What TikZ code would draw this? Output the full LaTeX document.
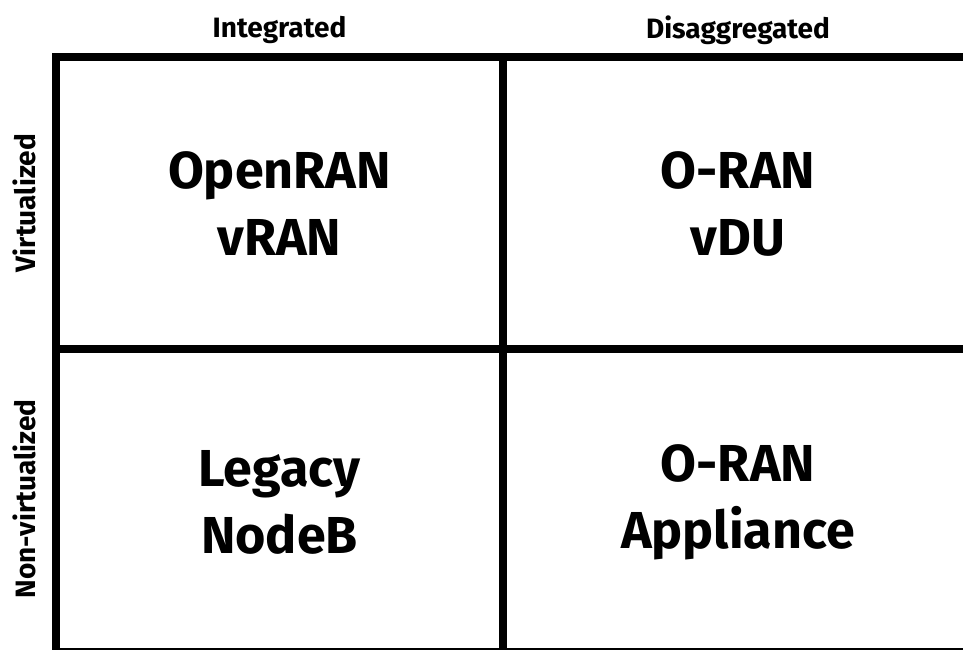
\documentclass[tikz,border=0pt]{standalone}
\usepackage{fontspec}
\setmainfont{Fira Sans}[BoldFont={Fira Sans Bold}]
\begin{document}
\begin{tikzpicture}[x=1pt,y=-1pt,
  gridline/.style={line width=8pt,black},
  head/.style={font=\bfseries\fontsize{28}{32}\selectfont,inner sep=0pt},
  side/.style={font=\bfseries\fontsize{28}{32}\selectfont,inner sep=0pt,rotate=90},
  cell/.style={font=\bfseries\fontsize{52}{67}\selectfont,align=center,inner sep=0pt}]
\useasboundingbox (0,0) rectangle (963,649);
\clip (0,0) rectangle (963,649);
\draw[gridline] (56,57) -- (56,660);
\draw[gridline] (503,57) -- (503,660);
\draw[gridline] (52,57) -- (980,57);
\draw[gridline] (52,349) -- (980,349);
\draw[gridline] (52,652) -- (980,652);
\node[head] (hint) at (279.5,30) {Integrated};
\node[head] (hdis) at (738,30) {Disaggregated};
\node[side] (svirt) at (24,203) {Virtualized};
\node[side] (snon) at (24,499) {Non-virtualized};
\node[cell] (c11) at (279.5,204) {OpenRAN\\vRAN};
\node[cell] (c12) at (738,204) {O-RAN\\vDU};
\node[cell] (c21) at (279.5,502) {Legacy\\NodeB};
\node[cell] (c22) at (738,502) {O-RAN\\Appliance};
\end{tikzpicture}
\end{document}
